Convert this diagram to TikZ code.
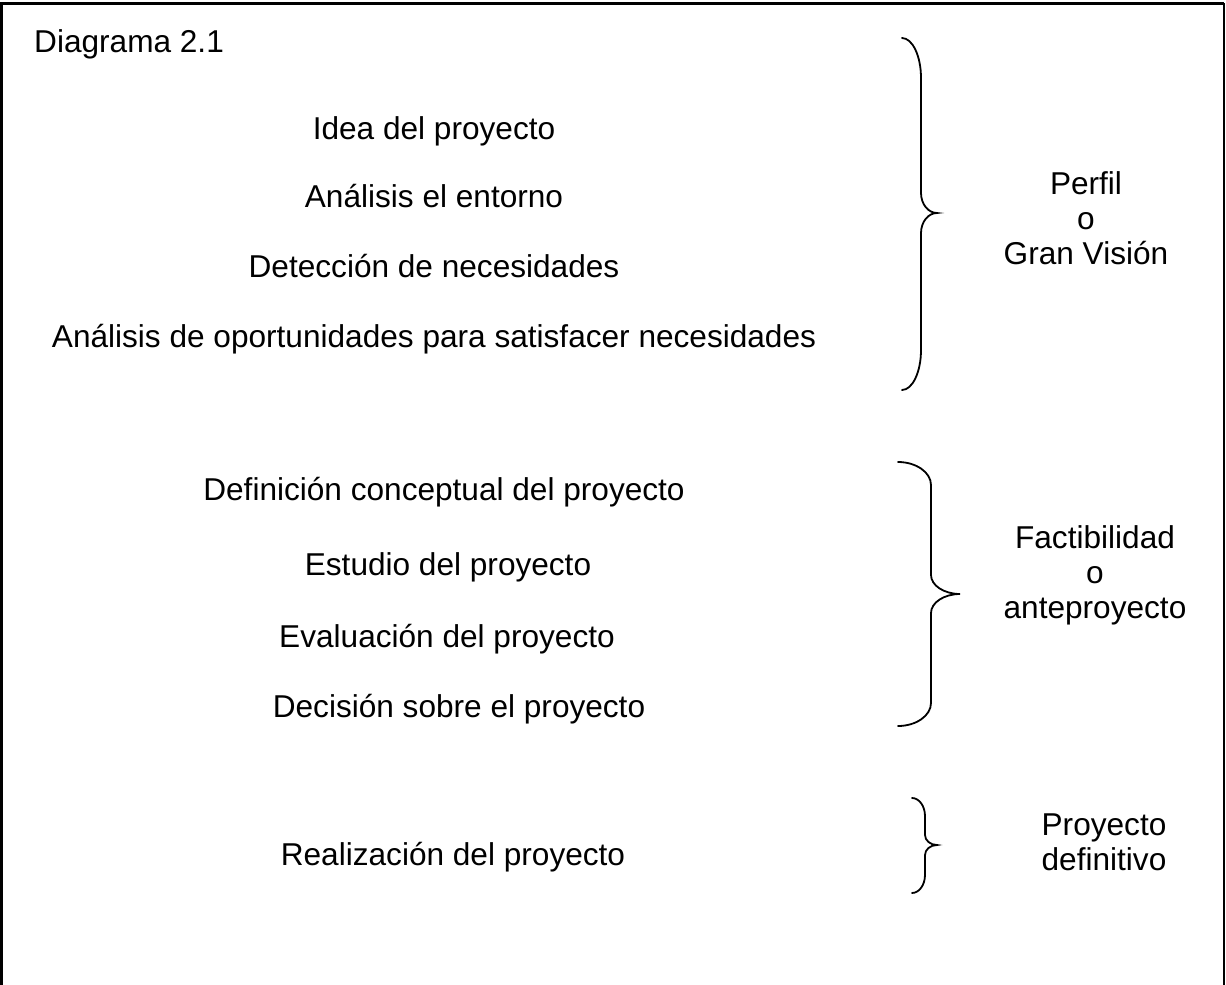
\documentclass[tikz,border=0pt]{standalone}
\usepackage{fontspec}
\setmainfont{Liberation Sans}
\usetikzlibrary{positioning}

% llave: x punta, x linea, x centro, y arriba, y centro, y abajo, radio, radio centro
\newcommand{\llave}[8]{%
  \draw[brace] (#1,#4) .. controls ({#1+0.55*(#2-#1)},#4) and (#2,{#4+0.45*#7}) .. (#2,{#4+#7})
    -- (#2,{#5-#8}) .. controls (#2,{#5-0.45*#8}) and ({#2+0.45*(#3-#2)},#5) .. (#3,#5)
    .. controls ({#2+0.45*(#3-#2)},#5) and (#2,{#5+0.45*#8}) .. (#2,{#5+#8})
    -- (#2,{#6-#7}) .. controls (#2,{#6-0.45*#7}) and ({#1+0.55*(#2-#1)},#6) .. (#1,#6);}

\begin{document}
\begin{tikzpicture}[
    x=1pt, y=-1pt,
    texto/.style={font=\fontsize{31.6}{35}\selectfont, inner sep=0pt, anchor=base},
    etapa/.style={texto, align=center},
    brace/.style={line width=1.8pt, line cap=round}
]
    \useasboundingbox (0,0) rectangle (1226,985);
    \draw[line width=3pt] (1.5,985) -- (1.5,3) -- (1224,3);
    \draw[line width=1.5pt] (1224,3) -- (1224,985);

    \node[texto, anchor=base west] (titulo) at (34,52) {Diagrama 2.1};

    % perfil
    \node[texto] (idea) at (434,139) {Idea del proyecto};
    \node[texto] (entorno) at (434,207) {Análisis el entorno};
    \node[texto] (necesidades) at (434,277) {Detección de necesidades};
    \node[texto] (oportunidades) at (434,347) {Análisis de oportunidades para satisfacer necesidades};

    % factibilidad
    \node[texto] (definicion) at (444,500) {Definición conceptual del proyecto};
    \node[texto] (estudio) at (448,575) {Estudio del proyecto};
    \node[texto] (evaluacion) at (447,647) {Evaluación del proyecto};
    \node[texto] (decision) at (459,717) {Decisión sobre el proyecto};

    % definitivo
    \node[texto] (realizacion) at (453,865) {Realización del proyecto};

    \llave{902}{921}{937}{38}{213}{390}{40}{20}
    \llave{898}{931}{960}{462}{594}{726}{23}{19}
    \llave{912}{925}{937}{798}{845}{893}{18}{10}

    \node[etapa] (perfil) at (1086,264) {Perfil\\o\\Gran Visión};
    \node[etapa] (factibilidad) at (1095,618) {Factibilidad\\o\\anteproyecto};
    \node[etapa] (definitivo) at (1104,870) {Proyecto\\definitivo};
\end{tikzpicture}
\end{document}
